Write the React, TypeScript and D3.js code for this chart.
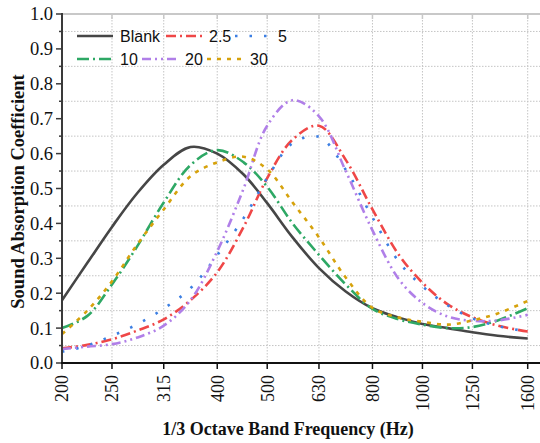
import React from 'react';
import * as d3 from 'd3';

// 1/3-octave sampling frequencies (Hz)
const frequencies = [200, 224, 250, 280, 315, 355, 400, 450, 500, 560, 630, 710, 800, 900, 1000, 1120, 1250, 1400, 1600];

// Sound absorption coefficient per sample
const blank = [0.18, 0.287, 0.39, 0.487, 0.568, 0.619, 0.6, 0.54, 0.458, 0.36, 0.272, 0.205, 0.157, 0.13, 0.112, 0.1, 0.088, 0.078, 0.07];
const s2_5 = [0.042, 0.052, 0.068, 0.093, 0.125, 0.18, 0.26, 0.39, 0.53, 0.64, 0.68, 0.582, 0.44, 0.31, 0.23, 0.168, 0.131, 0.107, 0.09];
const s5 = [0.032, 0.05, 0.078, 0.111, 0.156, 0.214, 0.309, 0.415, 0.53, 0.63, 0.648, 0.554, 0.417, 0.29, 0.22, 0.165, 0.128, 0.106, 0.09];
const s10 = [0.1, 0.135, 0.225, 0.335, 0.46, 0.567, 0.61, 0.575, 0.505, 0.4, 0.31, 0.225, 0.155, 0.125, 0.11, 0.1, 0.103, 0.122, 0.157];
const s20 = [0.04, 0.047, 0.054, 0.073, 0.107, 0.18, 0.32, 0.5, 0.68, 0.753, 0.707, 0.55, 0.38, 0.24, 0.172, 0.133, 0.121, 0.122, 0.138];
const s30 = [0.083, 0.15, 0.234, 0.34, 0.44, 0.535, 0.575, 0.591, 0.555, 0.46, 0.36, 0.245, 0.158, 0.13, 0.118, 0.11, 0.122, 0.142, 0.178];

const seriesNames = ['Blank', '2.5', '5', '10', '20', '30'];
const seriesValues = [blank, s2_5, s5, s10, s20, s30];

const bandTicks = [200, 250, 315, 400, 500, 630, 800, 1000, 1250, 1600];
const yMajorTicks = [0, 0.1, 0.2, 0.3, 0.4, 0.5, 0.6, 0.7, 0.8, 0.9, 1.0];
const yMinorTicks = [0.05, 0.15, 0.25, 0.35, 0.45, 0.55, 0.65, 0.75, 0.85, 0.95];

const W = 540;
const H = 443;
const left = 62;
const top = 14;
const bottom = 363;
const right = 541;

const styles = [
  { color: '#464646', dash: null },
  { color: '#ef4747', dash: '10,4,2,4' },
  { color: '#3c7fe3', dash: '2.5,12' },
  { color: '#2ea865', dash: '12,4,2,4' },
  { color: '#b07fe8', dash: '9,4,2,4,2,4' },
  { color: '#d6a20c', dash: '4,6' },
];

// legend item origins: [row, x]
const legendSlots = [
  [0, 77], [0, 166], [0, 235],
  [1, 77], [1, 142], [1, 207],
];
const legendRowY = [36, 59];

export default function App() {
  const x = d3.scaleLog().domain([200, 1600]).range([left, 527.7]);
  const y = d3.scaleLinear().domain([0, 1]).range([bottom, top]);
  const line = d3
    .line<number>()
    .x((_, i) => x(frequencies[i]))
    .y((d) => y(d))
    .curve(d3.curveCatmullRom.alpha(0.5));

  const serif = '"Liberation Serif", "Times New Roman", serif';
  const sans = '"Liberation Sans", Arial, sans-serif';
  const grid = '#c4c4c4';

  return (
    <svg width={W} height={H} style={{ position: 'absolute', left: 0, top: 0, background: '#fff' }}>
      <rect x={0} y={0} width={W} height={H} fill="#fff" />
      {/* grid */}
      {bandTicks.map((f) => (
        <line key={'gx' + f} x1={x(f)} x2={x(f)} y1={top} y2={bottom} stroke={grid} strokeWidth={1} strokeDasharray="1.5,1.5" />
      ))}
      {yMinorTicks.map((v) => (
        <line key={'gy' + v} x1={left} x2={right} y1={y(v)} y2={y(v)} stroke={grid} strokeWidth={1} strokeDasharray="1.5,1.5" />
      ))}
      {/* top frame */}
      <line x1={left} x2={right} y1={top} y2={top} stroke="#c8c8c8" strokeWidth={2} />
      {bandTicks.map((f) => (
        <line key={'tt' + f} x1={x(f)} x2={x(f)} y1={top} y2={top + 5} stroke="#c8c8c8" strokeWidth={1.5} />
      ))}

      {/* curves */}
      {seriesValues.map((vals, i) => (
        <path
          key={seriesNames[i]}
          d={line(vals) || ''}
          fill="none"
          stroke={styles[i].color}
          strokeWidth={2.6}
          strokeDasharray={styles[i].dash || undefined}
        />
      ))}

      {/* left axis */}
      <line x1={left} x2={left} y1={top - 1} y2={bottom + 1} stroke="#3a3a3a" strokeWidth={2} />
      {yMajorTicks.map((v) => (
        <g key={'yt' + v}>
          <line x1={left - 6} x2={left} y1={y(v)} y2={y(v)} stroke="#3a3a3a" strokeWidth={1.5} />
          <text x={left - 9} y={y(v)} dy="0.35em" textAnchor="end" fontFamily={serif} fontSize={18.5} fill="#111">
            {v.toFixed(1)}
          </text>
        </g>
      ))}
      {yMinorTicks.map((v) => (
        <line key={'ym' + v} x1={left - 3} x2={left} y1={y(v)} y2={y(v)} stroke="#3a3a3a" strokeWidth={1.5} />
      ))}

      {/* bottom axis */}
      <line x1={left - 1} x2={right} y1={bottom} y2={bottom} stroke="#111" strokeWidth={2} />
      {bandTicks.map((f) => (
        <g key={'xt' + f}>
          <line x1={x(f)} x2={x(f)} y1={bottom} y2={bottom + 6} stroke="#111" strokeWidth={1.5} />
          <text
            transform={`translate(${x(f)},${bottom + 12}) rotate(-90)`}
            dy="0.35em"
            textAnchor="end"
            fontFamily={serif}
            fontSize={18}
            fill="#111"
          >
            {f}
          </text>
        </g>
      ))}

      {/* axis titles */}
      <text
        transform={`translate(18,${(top + bottom) / 2 + 3}) rotate(-90)`}
        dy="0.35em"
        textAnchor="middle"
        fontFamily={serif}
        fontWeight="bold"
        fontSize={18.5}
        fill="#111"
      >
        Sound Absorption Coefficient
      </text>
      <text x={288} y={435} textAnchor="middle" fontFamily={serif} fontWeight="bold" fontSize={18} fill="#111">
        1/3 Octave Band Frequency (Hz)
      </text>

      {/* legend */}
      {seriesNames.map((name, i) => {
        const [row, lx] = legendSlots[i];
        const ly = legendRowY[row];
        return (
          <g key={'lg' + name}>
            <line
              x1={lx}
              x2={lx + 36}
              y1={ly}
              y2={ly}
              stroke={styles[i].color}
              strokeWidth={2.6}
              strokeDasharray={styles[i].dash || undefined}
            />
            <text x={lx + 43} y={ly} dy="0.36em" fontFamily={sans} fontSize={16} fill="#111">
              {name}
            </text>
          </g>
        );
      })}
    </svg>
  );
}
